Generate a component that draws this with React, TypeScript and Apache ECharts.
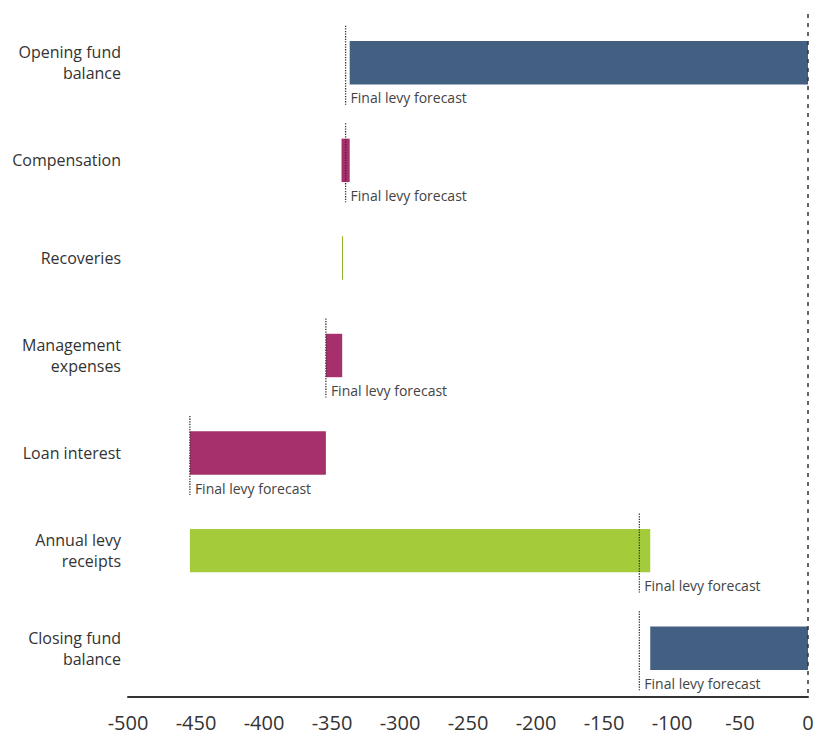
import React, { useEffect, useRef } from "react";
import * as echarts from "echarts";

const categories = [
  "Opening fund\nbalance",
  "Compensation",
  "Recoveries",
  "Management\nexpenses",
  "Loan interest",
  "Annual levy\nreceipts",
  "Closing fund\nbalance",
];
// bar start / end values (£m)
const barStart = [0, -337, -343, -342.5, -354.5, -454.5, 0];
const barEnd = [-337, -343, -342.5, -354.5, -454.5, -116, -116];
const barKind = ["balance", "out", "in", "out", "out", "in", "balance"];
// final levy forecast markers (null = none)
const forecast = [-340, -340, null, -354.5, -454.5, -124, -124];
const forecastLabel = "Final levy forecast";
const xTicks = { min: -500, max: 0, interval: 50 };

const colors: Record<string, string> = {
  balance: "#436083",
  out: "#A6306B",
  in: "#A3CB3A",
};

export default function App() {
  const ref = useRef<HTMLDivElement>(null);
  useEffect(() => {
    if (!ref.current) return;
    const chart = echarts.init(ref.current, null, { renderer: "svg" });
    const barData = categories.map((_, i) => [i, barStart[i], barEnd[i]]);
    const fcData = forecast
      .map((v, i) => (v === null ? null : [i, v]))
      .filter((d) => d !== null);
    chart.setOption({
      animation: false,
      grid: { left: 128, right: 10, top: 14, bottom: 39 },
      xAxis: {
        type: "value",
        min: xTicks.min,
        max: xTicks.max,
        interval: xTicks.interval,
        axisLine: { show: true, onZero: false, lineStyle: { color: "#333", width: 2 } },
        axisTick: { show: false },
        splitLine: { show: false },
        axisLabel: {
          color: "#333",
          fontSize: 20,
          fontFamily: "Open Sans",
          margin: 15,
        },
      },
      yAxis: {
        type: "category",
        data: categories,
        inverse: true,
        axisLine: { show: false },
        axisTick: { show: false },
        axisLabel: {
          color: "#333",
          fontSize: 16,
          fontFamily: "Open Sans",
          lineHeight: 21,
          margin: 7,
          align: "right",
        },
      },
      series: [
        {
          type: "custom",
          coordinateSystem: "cartesian2d",
          encode: { x: [1, 2], y: 0 },
          data: barData,
          renderItem: (params: any, api: any) => {
            const idx = api.value(0);
            const a = api.coord([api.value(1), idx]);
            const b = api.coord([api.value(2), idx]);
            const band = api.size([0, 1])[1];
            const h = band * 0.445;
            const rawW = Math.abs(a[0] - b[0]);
            const thin = rawW < 1.5;
            const x0 = thin ? Math.round(Math.min(a[0], b[0])) : Math.min(a[0], b[0]);
            const w = thin ? 1 : rawW;
            return {
              type: "rect",
              shape: { x: x0, y: a[1] - h / 2, width: w, height: h },
              style: { fill: thin ? "#8DB32E" : colors[barKind[idx]] },
            };
          },
          markLine: {
            silent: true,
            symbol: "none",
            label: { show: false },
            lineStyle: { color: "#333", type: [4, 5], width: 1.5 },
            data: [{ xAxis: 0 }],
          },
          z: 2,
        },
        {
          type: "custom",
          coordinateSystem: "cartesian2d",
          encode: { x: 1, y: 0 },
          data: fcData,
          renderItem: (params: any, api: any) => {
            const idx = api.value(0);
            const p = api.coord([api.value(1), idx]);
            const band = api.size([0, 1])[1];
            return {
              type: "group",
              children: [
                {
                  type: "line",
                  shape: {
                    x1: p[0],
                    y1: p[1] - band * 0.38,
                    x2: p[0],
                    y2: p[1] + band * 0.43,
                  },
                  style: { stroke: "#333", lineWidth: 1.3, lineDash: [1.3, 1.3] },
                },
                {
                  type: "text",
                  x: p[0] + 5,
                  y: p[1] + band * 0.36,
                  style: {
                    text: forecastLabel,
                    fill: "#444",
                    fontSize: 14,
                    fontFamily: "Open Sans",
                    verticalAlign: "middle",
                    align: "left",
                  },
                },
              ],
            };
          },
          z: 3,
        },
      ],
    });
    return () => chart.dispose();
  }, []);
  return (
    <div
      ref={ref}
      style={{ position: "fixed", left: 0, top: 0, width: 818, height: 736, background: "#fff" }}
    />
  );
}
